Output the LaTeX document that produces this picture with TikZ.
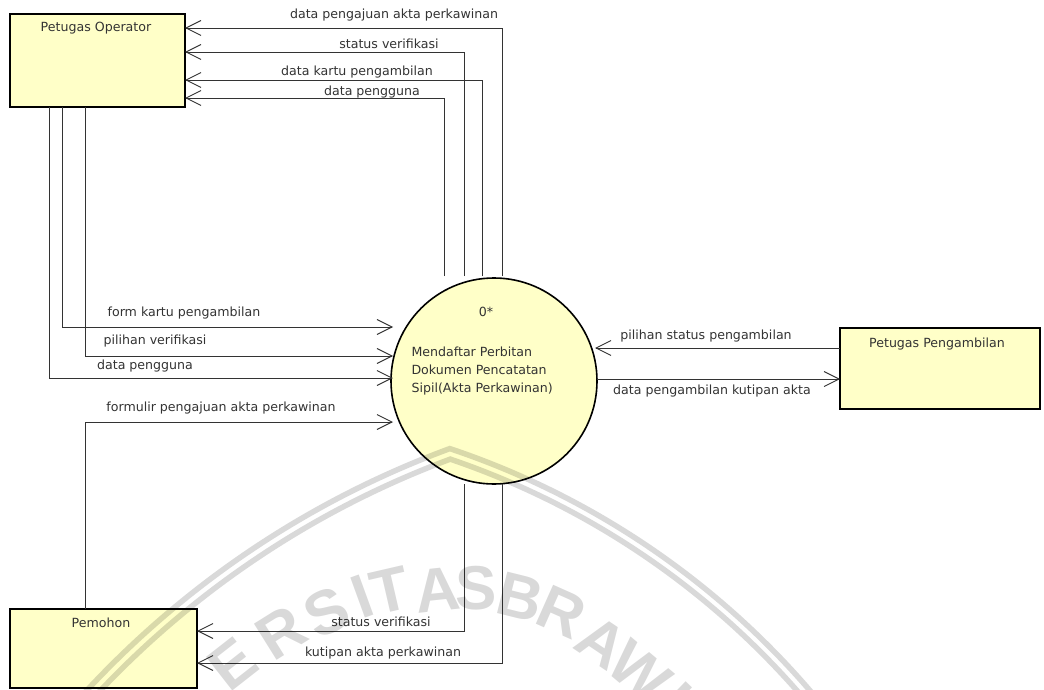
\documentclass[tikz,border=0pt]{standalone}
\usepackage{fontspec}
\setmainfont{DejaVu Sans}
\newfontfamily\wmfont{Liberation Sans}
\usetikzlibrary{arrows.meta}
\definecolor{yfill}{HTML}{FFFFC8}
\definecolor{ink}{HTML}{333333}
\begin{document}
\begin{tikzpicture}[x=1pt,y=-1pt,
  every node/.style={inner sep=0pt, outer sep=0pt},
  txt/.style={font=\fontsize{12.6}{18}\selectfont, text=ink},
  entity/.style={draw=black, line width=2.6pt, fill=yfill, anchor=north west},
  process/.style={circle, draw=black, line width=1.6pt, fill=yfill, minimum size=206pt},
  flow/.style={draw=ink, line width=0.9pt, -{Straight Barb[length=15pt,width=15pt]}},
  seal/.style={line width=5.5pt},
  sealchar/.style={font=\wmfont\bfseries\fontsize{62}{62}\selectfont}]
\useasboundingbox (0,0) rectangle (1044,690);
\clip (0,0) rectangle (1044,690);
\fill[white] (0,0) rectangle (1044,690);

% external entities and the process
\node[entity, minimum width=175pt, minimum height=93pt] (op) at (10,14) {};
\node[entity, minimum width=200pt, minimum height=81pt] (pp) at (840,328) {};
\node[entity, minimum width=187pt, minimum height=79pt] (pm) at (10,609) {};
\node[process] (p0) at (494,381) {};

\node[txt] (op-t) at (96,28) {Petugas Operator};
\node[txt] (pp-t) at (937,344.5) {Petugas Pengambilan};
\node[txt] (pm-t) at (101,622.5) {Pemohon};
\node[txt] (p0-id) at (486,312) {0*};
\node[txt, align=left, anchor=north west] (p0-t) at (411.5,346.5)
  {Mendaftar Perbitan\\Dokumen Pencatatan\\Sipil(Akta Perkawinan)};

% flows from the process up to Petugas Operator
\coordinate (u1) at (502,276); \coordinate (v1) at (502,28);
\coordinate (u2) at (464,276); \coordinate (v2) at (464,52);
\coordinate (u3) at (482,276); \coordinate (v3) at (482,80);
\coordinate (u4) at (444,276); \coordinate (v4) at (444,98);
\draw[flow] (u1) -- (v1) -- (op.east |- v1);
\draw[flow] (u2) -- (v2) -- (op.east |- v2);
\draw[flow] (u3) -- (v3) -- (op.east |- v3);
\draw[flow] (u4) -- (v4) -- (op.east |- v4);
\node[txt] (l1) at (394,15.5) {data pengajuan akta perkawinan};
\node[txt] (l2) at (389,44) {status verifikasi};
\node[txt] (l3) at (357,72) {data kartu pengambilan};
\node[txt] (l4) at (372,92.5) {data pengguna};

% flows from Petugas Operator and Pemohon into the process
\coordinate (k1) at (62,327); \coordinate (e1) at (393,327);
\coordinate (k2) at (85,356); \coordinate (e2) at (393,356);
\coordinate (k3) at (49,378); \coordinate (e3) at (393,378);
\coordinate (k4) at (85,422); \coordinate (e4) at (393,422);
\draw[flow] (op.south -| k1) -- (k1) -- (e1);
\draw[flow] (op.south -| k2) -- (k2) -- (e2);
\draw[flow] (op.south -| k3) -- (k3) -- (e3);
\draw[flow] (pm.north -| k4) -- (k4) -- (e4);
\node[txt] (l5) at (184,313) {form kartu pengambilan};
\node[txt] (l6) at (155,341) {pilihan verifikasi};
\node[txt] (l7) at (145,366) {data pengguna};
\node[txt] (l8) at (221,408) {formulir pengajuan akta perkawinan};

% flows to Pemohon
\coordinate (b1) at (464,484); \coordinate (w1) at (464,631);
\coordinate (b2) at (502,484); \coordinate (w2) at (502,663);
\draw[flow] (b1) -- (w1) -- (pm.east |- w1);
\draw[flow] (b2) -- (w2) -- (pm.east |- w2);
\node[txt] (l9) at (381,621.5) {status verifikasi};
\node[txt] (l10) at (383,653) {kutipan akta perkawinan};

% flows with Petugas Pengambilan
\coordinate (r1) at (595,348);
\coordinate (r2) at (597,379);
\draw[flow] (pp.west |- r1) -- (r1);
\draw[flow] (r2) -- (pp.west |- r2);
\node[txt] (l11) at (706,336) {pilihan status pengambilan};
\node[txt] (l12) at (712,391.5) {data pengambilan kutipan akta};

% university seal printed over the page
\begin{scope}[opacity=0.15, black]
  \draw[seal] (773,1327) ++(222:936) arc[start angle=222, end angle=249.8, radius=936]
              arc[start angle=288.5, end angle=326, radius=817];
  \draw[seal] (773,1327) ++(222:926) arc[start angle=222, end angle=249.6, radius=926]
              arc[start angle=288.76, end angle=326, radius=807];
  \node[sealchar, rotate=38]  (s1)  at (233,664) {E};
  \node[sealchar, rotate=32]  (s2)  at (281,633) {R};
  \node[sealchar, rotate=26]  (s3)  at (327,612) {S};
  \node[sealchar, rotate=20]  (s4)  at (362,597) {I};
  \node[sealchar, rotate=13]  (s5)  at (390,590) {T};
  \node[sealchar, rotate=6]   (s6)  at (438,590) {A};
  \node[sealchar, rotate=0]   (s7)  at (476,588) {S};
  \node[sealchar, rotate=-14] (s8)  at (520,597) {B};
  \node[sealchar, rotate=-24] (s9)  at (562,612) {R};
  \node[sealchar, rotate=-34] (s10) at (602,642) {A};
  \node[sealchar, rotate=-40] (s11) at (640,672) {W};
  \node[sealchar, rotate=-44] (s12) at (675,700) {I};
\end{scope}
\end{tikzpicture}
\end{document}
